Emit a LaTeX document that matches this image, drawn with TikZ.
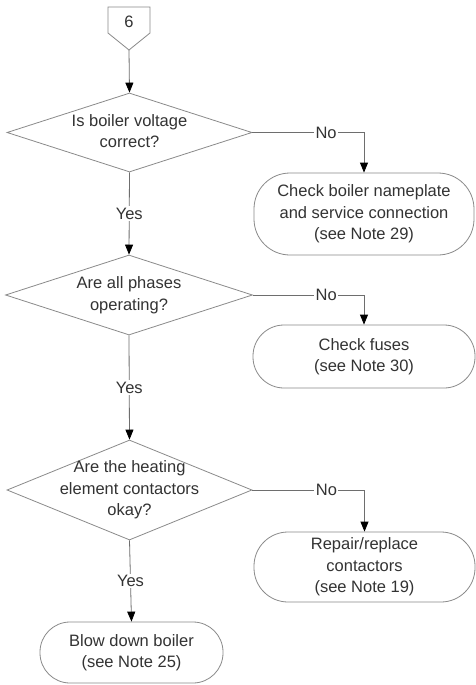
\documentclass[tikz,border=0pt]{standalone}
\usepackage{fontspec}
\setmainfont{Liberation Sans}
\usetikzlibrary{shapes.geometric,arrows.meta,calc}
\definecolor{lineg}{HTML}{6E6E6E}
\definecolor{shapeg}{HTML}{8A8A8A}
\definecolor{txt}{HTML}{333333}
\newcommand\dtext[1]{\makebox[0pt]{\raisebox{\dimexpr(\depth-\height)/2\relax}[0pt][0pt]{\begin{tabular}{@{}c@{}}#1\end{tabular}}}}
\begin{document}
\begin{tikzpicture}[x=1pt,y=1pt,
  font=\fontsize{16.5}{21.5}\selectfont, text=txt,
  dec/.style={diamond, draw=shapeg, line width=0.8pt, inner sep=0pt},
  term/.style={rectangle, draw=shapeg, line width=0.8pt, align=center, inner sep=0pt},
  conn/.style={draw=lineg, line width=0.8pt, -{Triangle[width=8pt,length=10pt,color=black]}},
  lbl/.style={fill=white, inner sep=1.5pt}]
\useasboundingbox[fill=white] (0,0) rectangle (476,-685);

% off-page connector
\draw[draw=shapeg, line width=0.8pt] (108,-7) -- (150,-7) -- (150,-33) -- (129,-50) -- (108,-33) -- cycle;
\node (c6) at (129,-22) {6};
\coordinate (c6p) at (129,-50);

% decisions
\node[dec, minimum width=245pt, minimum height=79pt] (d1) at (129.5,-132.5) {\dtext{Is boiler voltage\\correct?}};
\node[dec, minimum width=247pt, minimum height=80pt] (d2) at (129,-295) {\dtext{Are all phases\\operating?}};
\node[dec, minimum width=245pt, minimum height=100pt] (d3) at (129.5,-490) {\dtext{Are the heating\\element contactors\\okay?}};

% terminals
\node[term, rounded corners=36pt, minimum width=220pt, minimum height=82pt] (b1) at (364,-214) {Check boiler nameplate\\and service connection\\(see Note 29)};
\node[term, rounded corners=31pt, minimum width=222pt, minimum height=63pt] (b2) at (364,-356.5) {Check fuses\\(see Note 30)};
\node[term, rounded corners=34pt, minimum width=221pt, minimum height=70pt] (b3) at (364.5,-567) {Repair/replace\\contactors\\(see Note 19)};
\node[term, rounded corners=30pt, minimum width=183pt, minimum height=61pt] (b4) at (131.5,-652.5) {Blow down boiler\\(see Note 25)};

% connectors
\draw[conn] (c6p) -- (d1.north);
\draw[conn] (d1.east) -| node[lbl, pos=0.33] {No} (b1.north);
\draw[conn] (d1.south) -- node[lbl] {Yes} (d2.north);
\draw[conn] (d2.east) -| node[lbl, pos=0.33] {No} (b2.north);
\draw[conn] (d2.south) -- node[lbl] {Yes} (d3.north);
\draw[conn] (d3.east) -| node[lbl, pos=0.33] {No} (b3.north);
\draw[conn] (d3.south) -- node[lbl] {Yes} (b4.north);
\end{tikzpicture}
\end{document}
